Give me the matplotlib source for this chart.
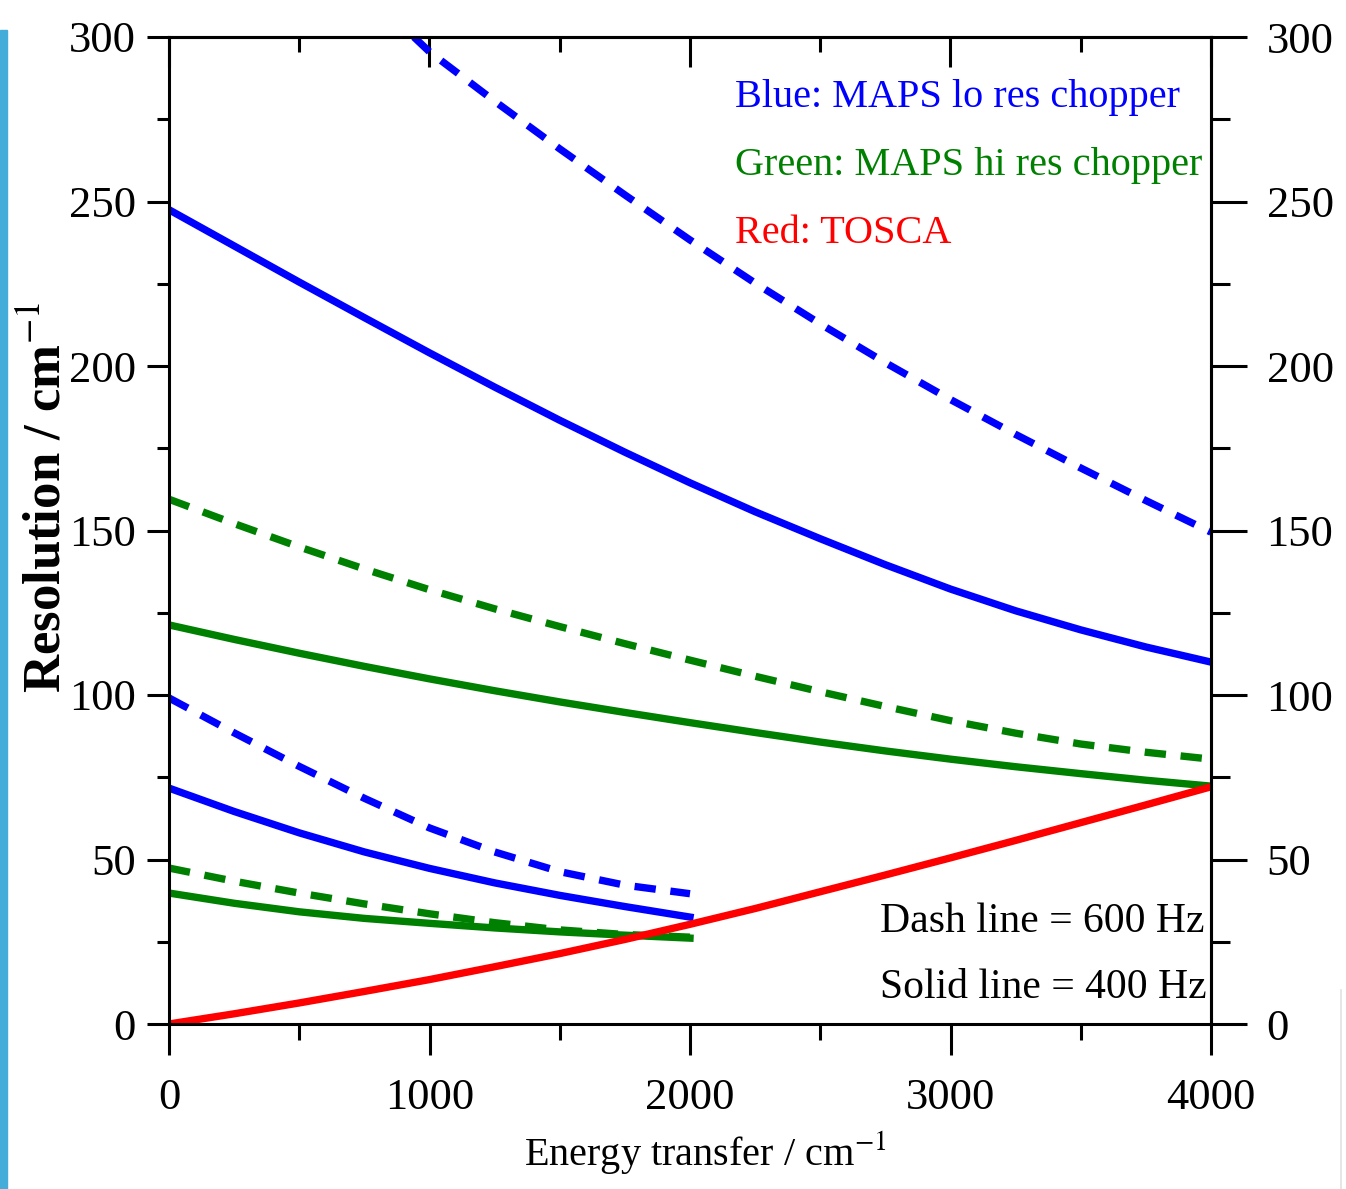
import matplotlib
matplotlib.use("Agg")
import matplotlib.pyplot as plt
from matplotlib.ticker import MultipleLocator

plt.rcParams['font.family'] = ['Liberation Serif', 'DejaVu Serif']
plt.rcParams['mathtext.fontset'] = 'stix'

# DATA (energy transfer / cm-1 vs resolution / cm-1)
x_full = [0, 250, 500, 750, 1000, 1250, 1500, 1750, 2000,
          2250, 2500, 2750, 3000, 3250, 3500, 3750, 4000]
x_half = [0, 250, 500, 750, 1000, 1250, 1500, 1750, 2000]

# MAPS lo res chopper (blue)
lo_600_x = [940, 1000, 1250, 1500, 1750, 2000, 2250, 2500, 2750,
            3000, 3250, 3500, 3750, 4000]
lo_600_y = [300, 295.5, 280.5, 266, 252, 238.3, 225.2, 212.8, 201,
            189.8, 179.2, 169, 159.1, 149.5]
lo_400_y = [247.5, 236.5, 225.5, 214.7, 204, 193.6, 183.5, 173.8, 164.5,
            155.7, 147.5, 139.6, 132.2, 125.6, 119.8, 114.6, 110]
lo_600_low_y = [99.1, 88.5, 78.3, 68.6, 59.6, 52.3, 46.3, 42.2, 39.6]
lo_400_low_y = [71.7, 64.6, 58.1, 52.3, 47.3, 42.9, 39.1, 35.7, 32.5]

# MAPS hi res chopper (green)
hi_600_y = [159.5, 152.1, 145, 138.3, 132, 126.2, 120.8, 115.6, 110.6,
            105.7, 101, 96.5, 92.2, 88.4, 85.1, 82.6, 80.5]
hi_400_y = [121.3, 116.9, 112.7, 108.7, 104.9, 101.3, 97.9, 94.7, 91.6,
            88.6, 85.7, 83, 80.5, 78.2, 76.1, 74.1, 72.3]
hi_600_low_y = [47.4, 43.4, 39.8, 36.5, 33.5, 30.8, 28.6, 27.2, 26.4]
hi_400_low_y = [39.8, 36.7, 34.1, 32.1, 30.6, 29.2, 28.0, 27.0, 26.1]

# TOSCA (red)
tosca_y = [0, 3.1, 6.4, 9.9, 13.5, 17.4, 21.4, 25.7, 30.3,
           35.1, 40.2, 45.3, 50.5, 55.8, 61.2, 66.6, 72.1]

BLUE, GREEN, RED = '#0000ff', '#008000', '#ff0000'
LW = 5.3
DASH = (2.9, 2.0)
TW = 2.2  # tick / spine width

fig = plt.figure(figsize=(13.46, 11.89), dpi=100)
fig.patches.append(plt.Rectangle((0, 0), 7/1346, 1 - 30/1189, transform=fig.transFigure,
                                 color='#44acd9', zorder=0))
fig.add_artist(plt.Line2D([1341/1346]*2, [0, 199/1189], transform=fig.transFigure,
                          color='#e2e2e2', lw=1.2))
ax = fig.add_axes([169/1346, 165/1189, 1042/1346, 987/1189])

# lines
ax.plot(lo_600_x, lo_600_y, color=BLUE, lw=LW, dashes=DASH)
ax.plot(x_full, lo_400_y, color=BLUE, lw=LW)
ax.plot(x_full, hi_600_y, color=GREEN, lw=LW, dashes=DASH)
ax.plot(x_full, hi_400_y, color=GREEN, lw=LW)
ax.plot(x_half, lo_600_low_y, color=BLUE, lw=LW, dashes=DASH)
ax.plot(x_half, lo_400_low_y, color=BLUE, lw=LW)
ax.plot(x_half, hi_600_low_y, color=GREEN, lw=LW, dashes=DASH)
ax.plot(x_half, hi_400_low_y, color=GREEN, lw=LW)
ax.plot(x_full, tosca_y, color=RED, lw=LW)

ax.set_xlim(0, 4000)
ax.set_ylim(0, 300)

# ticks: left/bottom/right outward, top inward
ax.xaxis.set_major_locator(MultipleLocator(1000))
ax.xaxis.set_minor_locator(MultipleLocator(500))
ax.yaxis.set_major_locator(MultipleLocator(50))
ax.yaxis.set_minor_locator(MultipleLocator(25))
ax.tick_params(top=False, right=False)
ax.tick_params(axis='y', which='major', direction='out', length=15.8, width=TW,
               labelsize=32, pad=8)
ax.tick_params(axis='y', which='minor', direction='out', length=8.6, width=TW)
ax.tick_params(axis='x', which='major', direction='out', length=22, width=TW,
               labelsize=32, pad=17)
ax.tick_params(axis='x', which='minor', direction='out', length=11.5, width=TW)
for s in ax.spines.values():
    s.set_linewidth(TW)

secy = ax.secondary_yaxis('right')
secy.yaxis.set_major_locator(MultipleLocator(50))
secy.yaxis.set_minor_locator(MultipleLocator(25))
secy.tick_params(axis='y', which='major', direction='out', length=26, width=TW,
                 labelsize=32, pad=14)
secy.tick_params(axis='y', which='minor', direction='out', length=13.7, width=TW)
secy.spines['right'].set_linewidth(TW)

secx = ax.secondary_xaxis('top')
secx.xaxis.set_major_locator(MultipleLocator(1000))
secx.xaxis.set_minor_locator(MultipleLocator(500))
secx.tick_params(axis='x', which='major', direction='in', length=21.6, width=TW,
                 labeltop=False)
secx.tick_params(axis='x', which='minor', direction='in', length=10.8, width=TW)
secx.spines['top'].set_linewidth(TW)

# axis labels
ax.set_ylabel('Resolution / cm$^{-1}$', fontsize=38, fontweight='bold')
ax.yaxis.set_label_coords(-0.094, 0.534)
ax.set_xlabel('Energy transfer / cm$^{-1}$', fontsize=29, va='top')
ax.xaxis.set_label_coords(0.515, -0.106)

# annotations
ax.text(2173, 278.7, 'Blue: MAPS lo res chopper', color=BLUE, fontsize=29, va='baseline')
ax.text(2173, 258.0, 'Green: MAPS hi res chopper', color=GREEN, fontsize=29, va='baseline')
ax.text(2173, 237.4, 'Red: TOSCA', color=RED, fontsize=29, va='baseline')
ax.text(2729, 28.0, 'Dash line = 600 Hz', color='black', fontsize=30, va='baseline')
ax.text(2729, 7.9, 'Solid line = 400 Hz', color='black', fontsize=30, va='baseline')

fig.savefig('out.png', dpi=100)
